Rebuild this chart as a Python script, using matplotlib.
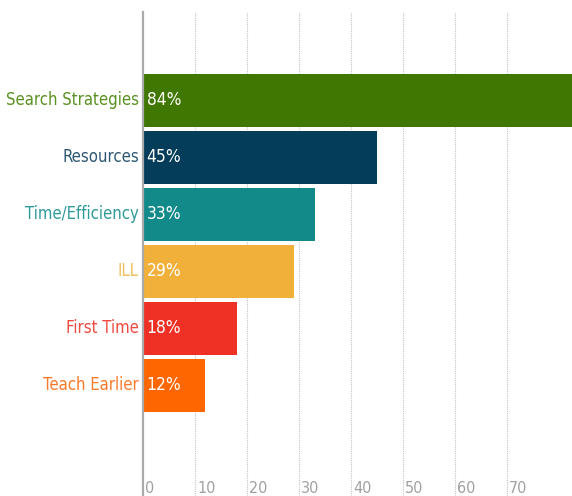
import matplotlib.pyplot as plt
from matplotlib import font_manager

categories = ['Search Strategies', 'Resources', 'Time/Efficiency', 'ILL', 'First Time', 'Teach Earlier']
values = [84, 45, 33, 29, 18, 12]
bar_colors = ['#3f7700', '#033d5a', '#138a8a', '#f0b03a', '#ee3124', '#fe6600']
label_colors = ['#5a9222', '#2d5773', '#2f9a9a', '#f2bc5a', '#ef4a3f', '#fb7a2a']
ticks = [0, 10, 20, 30, 40, 50, 60, 70]

names = {f.name for f in font_manager.fontManager.ttflist}
if 'Liberation Sans Narrow' in names:
    fprop = font_manager.FontProperties(family='Liberation Sans Narrow', size=13)
else:
    fprop = font_manager.FontProperties(family='DejaVu Sans', stretch='condensed', size=12)
vprop = fprop.copy()
vprop.set_size(12.5)
tprop = fprop.copy()
tprop.set_size(11.5)

fig = plt.figure(figsize=(5.72, 4.96), dpi=100)
ax = fig.add_axes([143 / 572, 0, 1 - 143 / 572, 484 / 496])

y = list(range(len(categories)))
ax.barh(y, values, height=0.93, color=bar_colors, zorder=2)
ax.set_xlim(0, 82.5)
ax.set_ylim(6.94, -1.55)

# dotted grid lines
for x in ticks[1:]:
    ax.axvline(x, color='#c4c4c4', linestyle=(0, (1, 1)), linewidth=0.8, zorder=1)

# tick labels sit inside the plot at the bottom
for x in ticks:
    ax.text(x + 0.4, 6.8, str(x), color='#a0a0a0', fontproperties=tprop, ha='left', va='center')

for yi, v, c, lc in zip(y, values, categories, label_colors):
    ax.text(0.7, yi, f'{v}%', color='white', fontproperties=vprop, ha='left', va='center', zorder=3)
    ax.text(-0.8, yi, c, color=lc, fontproperties=fprop, ha='right', va='center')

ax.set_xticks([])
ax.set_yticks([])
for s in ['top', 'right', 'bottom']:
    ax.spines[s].set_visible(False)
ax.spines['left'].set_color('#aaaaaa')
ax.spines['left'].set_linewidth(1.6)

fig.savefig('out.png', dpi=100)
